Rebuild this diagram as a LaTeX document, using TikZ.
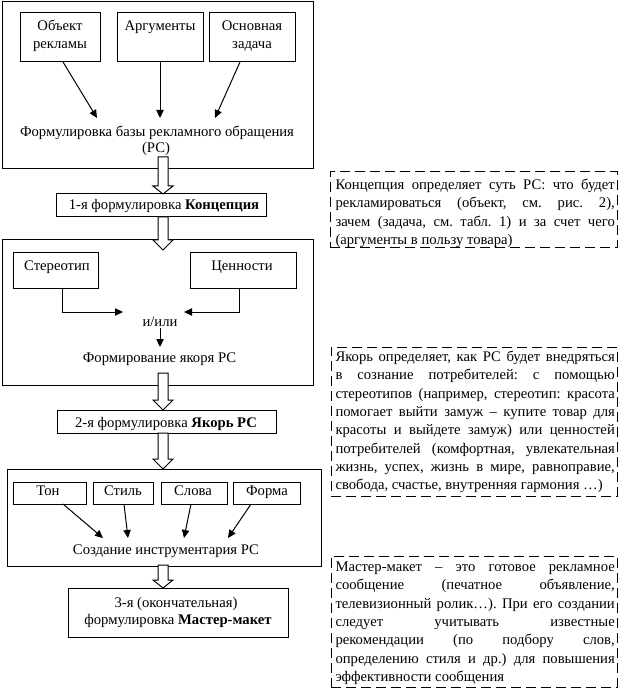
\documentclass[tikz,border=0pt]{standalone}
\usepackage{fontspec}
\setmainfont{Liberation Serif}
\usetikzlibrary{arrows.meta,fit}

\newlength\jw
\setlength\jw{209.5pt}
\newcommand\jline[1]{\hbox to \jw{#1}}
\newcommand\lastline[1]{\hbox to \jw{#1\hfil}}
\newcommand\jtext[1]{\vtop{\fontsize{11}{13.75}\selectfont\frenchspacing #1}}
\newcommand\blockarr[4]{%
  \draw[barrow] ({#1-5},#2) -- ({#1+5},#2) -- ({#1+5},#3) -- ({#1+10},#3)
    -- (#1,#4) -- ({#1-10},#3) -- ({#1-5},#3) -- cycle;}

\begin{document}
\begin{tikzpicture}[x=0.75pt,y=-0.75pt,
  line width=0.75pt,
  font=\fontsize{11}{13.75}\selectfont,
  frame/.style={draw, inner sep=0pt, outer sep=0pt},
  dframe/.style={draw, inner sep=0pt, outer sep=0pt, dash pattern=on 7.5pt off 3.75pt},
  txt/.style={anchor=base, inner sep=0pt},
  jtxt/.style={anchor=base west, inner sep=0pt},
  arr/.style={-{Triangle[length=6pt,width=5.5pt]}},
  barrow/.style={draw, fill=white, line join=miter}]
\useasboundingbox (0,0) rectangle (625,691);

% ---------- block 1 ----------
\node[frame, fit={(2,2) (313,169)}] (outer1) {};
\node[frame, fit={(20,13) (100,62)}] (obj) {};
\node[frame, fit={(117,13) (203,62)}] (arg) {};
\node[frame, fit={(209,13) (295,62)}] (osn) {};
\node[txt] (objA) at (60,31) {Объект};
\node[txt] (objB) at (60,48.5) {рекламы};
\node[txt] (argA) at (160,31) {Аргументы};
\node[txt] (osnA) at (252,31) {Основная};
\node[txt] (osnB) at (252,48.5) {задача};
\node[txt] (form1) at (157,137) {Формулировка базы рекламного обращения};
\node[txt] (form2) at (156,153) {(РС)};
\coordinate (e1) at (97,118);
\coordinate (e2) at (160,118);
\coordinate (e3) at (215,118);
\draw[arr] ([xshift=2.25pt]obj.south) -- (e1);
\draw[arr] (arg.south) -- (e2);
\draw[arr] ([xshift=-9pt]osn.south) -- (e3);

% ---------- concept ----------
\node[frame, fit={(56,194) (266,217)}] (conc) {};
\node[txt] (concT) at (164,210) {1-я формулировка \textbf{Концепция}};

% ---------- block 2 ----------
\node[frame, fit={(2,240) (313,385)}] (outer2) {};
\node[frame, fit={(13,253) (98,288)}] (ster) {};
\node[frame, fit={(190,253) (296,288)}] (cen) {};
\node[txt] (sterT) at (57,271) {Стереотип};
\node[txt] (cenT) at (242,271) {Ценности};
\node[txt] (ili) at (160,326) {и/или};
\coordinate (e4) at (123,312);
\coordinate (e5) at (184,312);
\draw[arr] ([xshift=4.9pt]ster.south) |- (e4);
\draw[arr] ([xshift=-3pt]cen.south) |- (e5);
\coordinate (e6) at (160,347);
\draw[arr] ([yshift=-1pt]ili.south) -- (e6);
\node[txt] (anch) at (159.5,362) {Формирование якоря РС};

% ---------- anchor ----------
\node[frame, fit={(57,410) (276,433)}] (yak) {};
\node[txt] (yakT) at (166,427) {2-я формулировка \textbf{Якорь РС}};

% ---------- block 3 ----------
\node[frame, fit={(7,469) (321,566)}] (outer3) {};
\node[frame, fit={(13,482) (86,504)}] (ton) {};
\node[frame, fit={(93,482) (153,504)}] (stil) {};
\node[frame, fit={(161,482) (227,504)}] (slova) {};
\node[frame, fit={(233,482) (300,504)}] (forma) {};
\node[txt] (tonT) at (48,495) {Тон};
\node[txt] (stilT) at (123,495) {Стиль};
\node[txt] (slovaT) at (193,495) {Слова};
\node[txt] (formaT) at (267,495) {Форма};
\coordinate (e7) at (103,538);
\coordinate (e8) at (128,538);
\coordinate (e9) at (184,538);
\coordinate (e10) at (228,538);
\draw[arr] ([xshift=10.1pt]ton.south) -- (e7);
\draw[arr] ([xshift=0.75pt]stil.south) -- (e8);
\draw[arr] ([xshift=-2.25pt]slova.south) -- (e9);
\draw[arr] ([xshift=-11.6pt]forma.south) -- (e10);
\node[txt] (instr) at (166,554) {Создание инструментария РС};

% ---------- master ----------
\node[frame, fit={(68,588) (288,637)}] (mast) {};
\node[txt] (mastA) at (176,607) {3-я (окончательная)};
\node[txt] (mastB) at (178,624) {формулировка \textbf{Мастер-макет}};

% ---------- block arrows ----------
\blockarr{163}{157}{186}{194}
\blockarr{163}{217}{240}{250}
\blockarr{163}{373}{400}{410}
\blockarr{163}{433}{459}{469}
\blockarr{163}{565}{580}{588}

% ---------- notes ----------
\node[dframe, fit={(330,172) (617,248)}] (noteA) {};
\node[jtxt] (noteAT) at (335,189.5) {\jtext{%
\jline{Концепция определяет суть РС: что будет}
\jline{рекламироваться (объект, см. рис. 2),}
\jline{зачем (задача, см. табл. 1) и за счет чего}
\lastline{(аргументы в пользу товара)}}};

\node[dframe, fit={(331,347) (617,496)}] (noteB) {};
\node[jtxt] (noteBT) at (335,361.5) {\jtext{%
\jline{Якорь определяет, как РС будет внедряться}
\jline{в сознание потребителей: с помощью}
\jline{стереотипов (например, стереотип: красота}
\jline{помогает выйти замуж – купите товар для}
\jline{красоты и выйдете замуж) или ценностей}
\jline{потребителей (комфортная, увлекательная}
\jline{жизнь, успех, жизнь в мире, равноправие,}
\lastline{свобода, счастье, внутренняя гармония …)}}};

\node[dframe, fit={(331,556) (617,687)}] (noteC) {};
\node[jtxt] (noteCT) at (335,571.5) {\jtext{%
\jline{Мастер-макет – это готовое рекламное}
\jline{сообщение (печатное объявление,}
\jline{телевизионный ролик…). При его создании}
\jline{следует учитывать известные}
\jline{рекомендации (по подбору слов,}
\jline{определению стиля и др.) для повышения}
\lastline{эффективности сообщения}}};
\end{tikzpicture}
\end{document}
